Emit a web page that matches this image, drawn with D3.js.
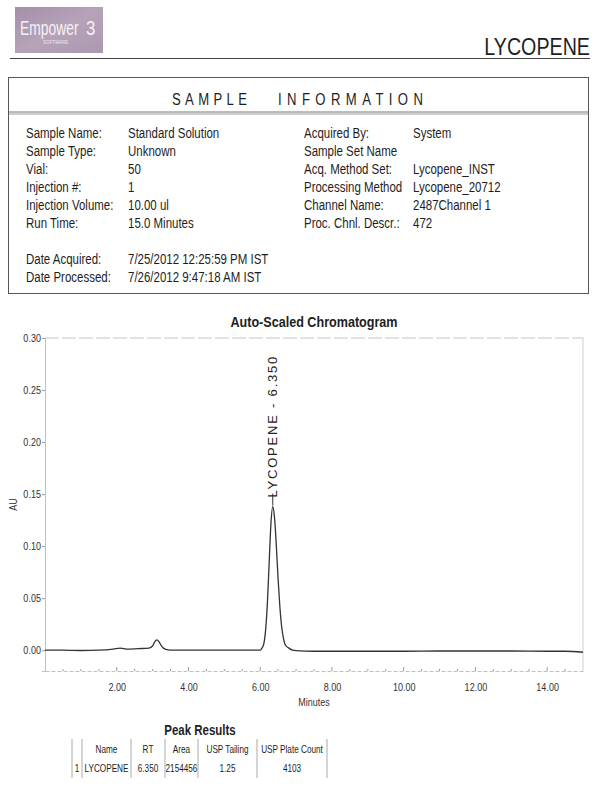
<!DOCTYPE html>
<html>
<head>
<meta charset="utf-8">
<script src="https://cdn.jsdelivr.net/npm/d3@7"></script>
<style>
body { margin: 0; background: #fff; }
svg { display: block; }
text { font-family: "Liberation Sans", sans-serif; fill: #1e1e1e; }
</style>
</head>
<body>
<svg id="report" width="598" height="789"></svg>
<script>
// sample information
var infoLeftLabels = ["Sample Name:", "Sample Type:", "Vial:", "Injection #:", "Injection Volume:", "Run Time:"];
var infoLeftValues = ["Standard Solution", "Unknown", "50", "1", "10.00 ul", "15.0 Minutes"];
var infoRightLabels = ["Acquired By:", "Sample Set Name", "Acq. Method Set:", "Processing Method", "Channel Name:", "Proc. Chnl. Descr.:"];
var infoRightValues = ["System", "", "Lycopene_INST", "Lycopene_20712", "2487Channel 1", "472"];
var dateLabels = ["Date Acquired:", "Date Processed:"];
var dateValues = ["7/25/2012 12:25:59 PM IST", "7/26/2012 9:47:18 AM IST"];

// chromatogram (minutes, AU)
var times = [0.0, 0.5, 1.0, 1.5, 1.9, 2.1, 2.3, 2.6, 2.9, 3.0, 3.06, 3.12, 3.18, 3.25, 3.35, 3.5,
  4.0, 4.5, 5.0, 5.5, 5.9, 6.0, 6.05, 6.1, 6.15, 6.2, 6.25, 6.3, 6.35, 6.4, 6.45, 6.5, 6.55,
  6.6, 6.65, 6.7, 6.8, 6.9, 7.0, 7.5, 8.0, 9.0, 10.0, 11.0, 12.0, 13.0, 14.0, 14.5, 15.0];
var absorbance = [0.000, 0.000, -0.0003, 0.000, 0.001, 0.002, 0.001, 0.0015, 0.002, 0.004, 0.008, 0.010, 0.008, 0.004, 0.001, 0.000,
  0.000, 0.000, 0.000, 0.000, 0.000, 0.000, 0.002, 0.006, 0.019, 0.045, 0.084, 0.122, 0.138, 0.127, 0.100, 0.068, 0.041,
  0.022, 0.011, 0.005, 0.002, 0.000, -0.0005, -0.001, -0.001, -0.001, -0.001, -0.0008, -0.0008, -0.0008, -0.001, -0.001, -0.002];

var yTicks = [0.00, 0.05, 0.10, 0.15, 0.20, 0.25, 0.30];
var xTicks = [2, 4, 6, 8, 10, 12, 14];
var peakName = "LYCOPENE";
var peakRT = 6.350;
var peakApex = 0.138;

// peak results table
var peakColumns = ["", "Name", "RT", "Area", "USP Tailing", "USP Plate Count"];
var peakRow = ["1", "LYCOPENE", "6.350", "2154456", "1.25", "4103"];

var svg = d3.select("#report");

// no narrow face installed, so squeeze the regular one sideways
function narrow(sel, x, y, sx) {
  return sel.attr("transform", "translate(" + x + "," + y + ") scale(" + (sx || 0.82) + ",1)");
}

// ---- header ----
var grad = svg.append("defs").append("linearGradient")
  .attr("id", "logoGrad").attr("x1", 0).attr("y1", 0).attr("x2", 1).attr("y2", 1);
grad.append("stop").attr("offset", "0%").attr("stop-color", "#a38fa8");
grad.append("stop").attr("offset", "50%").attr("stop-color", "#b6a3b9");
grad.append("stop").attr("offset", "100%").attr("stop-color", "#ac98b0");

svg.append("rect").attr("x", 15).attr("y", 7).attr("width", 88).attr("height", 46)
  .attr("fill", "url(#logoGrad)");
narrow(svg.append("text"), 20, 35, 0.66).attr("font-size", 21)
  .style("fill", "#f4f0f5").text("Empower");
narrow(svg.append("text"), 86, 35, 0.8).attr("font-size", 21)
  .style("fill", "#f4f0f5").text("3");
svg.append("text").attr("x", 43).attr("y", 44).attr("font-size", 4.5)
  .style("fill", "#ece6ee").text("SOFTWARE");

narrow(svg.append("text"), 590, 55).attr("text-anchor", "end")
  .attr("font-size", 24).text("LYCOPENE");
svg.append("line").attr("x1", 10).attr("x2", 590).attr("y1", 58.5).attr("y2", 58.5)
  .attr("stroke", "#444").attr("stroke-width", 1.2);

// ---- sample information box ----
svg.append("rect").attr("x", 8.5).attr("y", 77.5).attr("width", 580).attr("height", 216)
  .attr("fill", "none").attr("stroke", "#555").attr("stroke-width", 1);
svg.append("line").attr("x1", 9).attr("x2", 588).attr("y1", 112).attr("y2", 112)
  .attr("stroke", "#777").attr("stroke-width", 1);
svg.append("line").attr("x1", 9).attr("x2", 588).attr("y1", 114).attr("y2", 114)
  .attr("stroke", "#999").attr("stroke-width", 1);
narrow(svg.append("text"), 172, 104.5).attr("font-size", 16).attr("letter-spacing", 5.3).text("SAMPLE");
narrow(svg.append("text"), 278, 104.5).attr("font-size", 16).attr("letter-spacing", 6.6).text("INFORMATION");

var rowY = d3.scaleLinear().domain([0, 1]).range([138, 156]);

function infoColumn(labels, values, xl, xv, y0) {
  var g = svg.append("g").attr("font-size", 14);
  g.selectAll(".lab").data(labels).enter().append("text")
    .attr("transform", function(d, i) { return "translate(" + xl + "," + (rowY(i) + y0) + ") scale(0.82,1)"; })
    .text(function(d) { return d; });
  g.selectAll(".val").data(values).enter().append("text")
    .attr("transform", function(d, i) { return "translate(" + xv + "," + (rowY(i) + y0) + ") scale(0.82,1)"; })
    .text(function(d) { return d; });
}
infoColumn(infoLeftLabels, infoLeftValues, 26, 128, 0);
infoColumn(infoRightLabels, infoRightValues, 304, 413, 0);
infoColumn(dateLabels, dateValues, 26, 128, 126);

// ---- chromatogram ----
var x = d3.scaleLinear().domain([0, 15]).range([45, 583]);
var y = d3.scaleLinear().domain([-0.02, 0.30]).range([671, 338]);

narrow(svg.append("text"), 314, 327, 0.9).attr("text-anchor", "middle")
  .attr("font-size", 14).attr("font-weight", "bold").text("Auto-Scaled Chromatogram");

// frame
svg.append("line").attr("x1", x(0)).attr("x2", x(15)).attr("y1", y(0.30)).attr("y2", y(0.30))
  .attr("stroke", "#c4c4c4").attr("stroke-dasharray", "14,3");
svg.append("line").attr("x1", x(15)).attr("x2", x(15)).attr("y1", y(0.30)).attr("y2", y(-0.02))
  .attr("stroke", "#d0d0d0");

var yAxis = svg.append("g").attr("transform", "translate(" + x(0) + ",0)")
  .call(d3.axisLeft(y).tickValues(yTicks).tickFormat(d3.format(".2f")).tickSize(3).tickPadding(2));
var xAxis = svg.append("g").attr("transform", "translate(0," + y(-0.02) + ")")
  .call(d3.axisBottom(x).tickValues(xTicks).tickFormat(d3.format(".2f")).tickSize(0).tickPadding(12));

[yAxis, xAxis].forEach(function(a) {
  a.select(".domain").attr("stroke", "#c0c0c0");
  a.selectAll(".tick line").attr("stroke", "#999");
  a.selectAll(".tick text").attr("font-size", 11).attr("font-family", null)
    .attr("transform", "scale(0.82,1)").style("fill", "#333");
});
xAxis.select(".domain").attr("stroke-dasharray", "4,2");

// minor x ticks pointing up into the plot
svg.append("g").selectAll("line").data(d3.range(0.5, 15, 0.5)).enter().append("line")
  .attr("x1", function(d) { return x(d); }).attr("x2", function(d) { return x(d); })
  .attr("y1", y(-0.02)).attr("y2", function(d) { return y(-0.02) - (d % 2 === 0 ? 4 : 2); })
  .attr("stroke", "#999");

svg.append("text").attr("transform", "translate(17," + y(0.14) + ") rotate(-90) scale(0.82,1)")
  .attr("text-anchor", "middle").attr("font-size", 11).style("fill", "#333").text("AU");
narrow(svg.append("text"), x(7.5), 706).attr("text-anchor", "middle")
  .attr("font-size", 11).style("fill", "#333").text("Minutes");

var trace = d3.line()
  .x(function(d, i) { return x(times[i]); })
  .y(function(d) { return y(d); })
  .curve(d3.curveMonotoneX);
svg.append("path").datum(absorbance).attr("d", trace)
  .attr("fill", "none").attr("stroke", "#333").attr("stroke-width", 1.3);

// peak label
var labelStart = y(peakApex) - 9;
svg.append("line").attr("x1", x(peakRT)).attr("x2", x(peakRT))
  .attr("y1", y(peakApex) - 1).attr("y2", labelStart - 4)
  .attr("stroke", "#333");
svg.append("text")
  .attr("transform", "translate(" + (x(peakRT) + 4.5) + "," + labelStart + ") rotate(-90)")
  .attr("font-size", 13).attr("letter-spacing", 1.8)
  .style("fill", "#222").text(peakName + " - " + d3.format(".3f")(peakRT));

// ---- peak results ----
narrow(svg.append("text"), 200, 735).attr("text-anchor", "middle")
  .attr("font-size", 14).attr("font-weight", "bold").text("Peak Results");

var colEdges = [72, 82, 131, 165, 198, 257, 327];
var tbl = svg.append("g").attr("font-size", 10);
tbl.selectAll("line").data(colEdges).enter().append("line")
  .attr("x1", function(d) { return d; }).attr("x2", function(d) { return d; })
  .attr("y1", 739).attr("y2", 778).attr("stroke", "#aaa");
[peakColumns, peakRow].forEach(function(row, r) {
  tbl.selectAll(".r" + r).data(row).enter().append("text")
    .attr("transform", function(d, i) {
      return "translate(" + (colEdges[i] + colEdges[i + 1]) / 2 + "," + (753 + r * 19) + ") scale(0.82,1)";
    })
    .attr("text-anchor", "middle")
    .text(function(d) { return d; });
});
</script>
</body>
</html>
